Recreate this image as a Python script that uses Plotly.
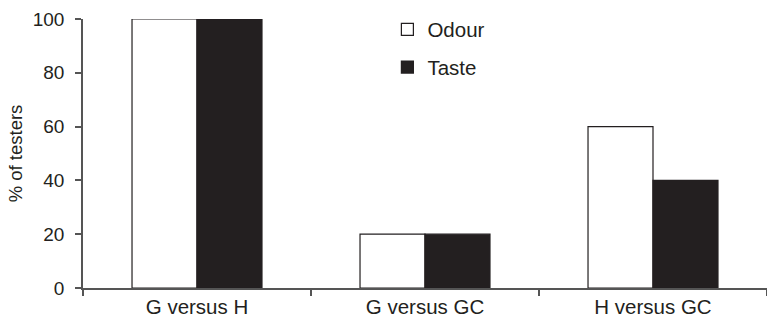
import plotly.graph_objects as go

categories = ["G versus H", "G versus GC", "H versus GC"]
odour = [100, 20, 60]
taste = [100, 20, 40]
y_ticks = [0, 20, 40, 60, 80, 100]

ink = "#231f20"
axis_col = "#555555"
font_family = "Liberation Sans, Arial, Helvetica, sans-serif"

fig = go.Figure()
fig.add_trace(go.Bar(
    x=categories, y=odour, name="Odour", legendgroup="o",
    marker=dict(color="white", line=dict(color=ink, width=1.2)),
))
fig.add_trace(go.Bar(
    x=categories, y=taste, name="Taste", legendgroup="t",
    marker=dict(color=ink, line=dict(color=ink, width=1.2)),
))

fig.update_layout(
    width=767, height=327,
    margin=dict(l=83, r=0, t=19, b=39),
    paper_bgcolor="white", plot_bgcolor="white",
    barmode="group", bargap=0.43, bargroupgap=0,
    font=dict(family=font_family, size=18, color=ink),
    showlegend=True,
    legend=dict(
        x=0.445, y=1.035, xanchor="left", yanchor="top",
        bgcolor="rgba(0,0,0,0)", borderwidth=0,
        font=dict(size=20.5, color=ink),
        traceorder="grouped", tracegroupgap=8,
    ),
    xaxis=dict(
        showline=True, linecolor=axis_col, linewidth=1.5,
        ticks="outside", tickson="boundaries", ticklen=6, tickcolor=axis_col,
        tickwidth=1.5,
        tickfont=dict(size=20.5, color=ink),
        showgrid=False, zeroline=False,
    ),
    yaxis=dict(
        range=[0, 100], tickvals=y_ticks,
        showline=True, linecolor=axis_col, linewidth=1.5,
        ticks="outside", ticklen=6, tickcolor=axis_col, tickwidth=1.5,
        tickfont=dict(size=19, color=ink), ticklabelstandoff=7,
        showgrid=False, zeroline=False,
        title=dict(text="% of testers", font=dict(size=18.5, color=ink), standoff=5),
    ),
)

fig.write_html("out.html", config={"displayModeBar": False},
               post_script="document.body.style.margin='0';")
